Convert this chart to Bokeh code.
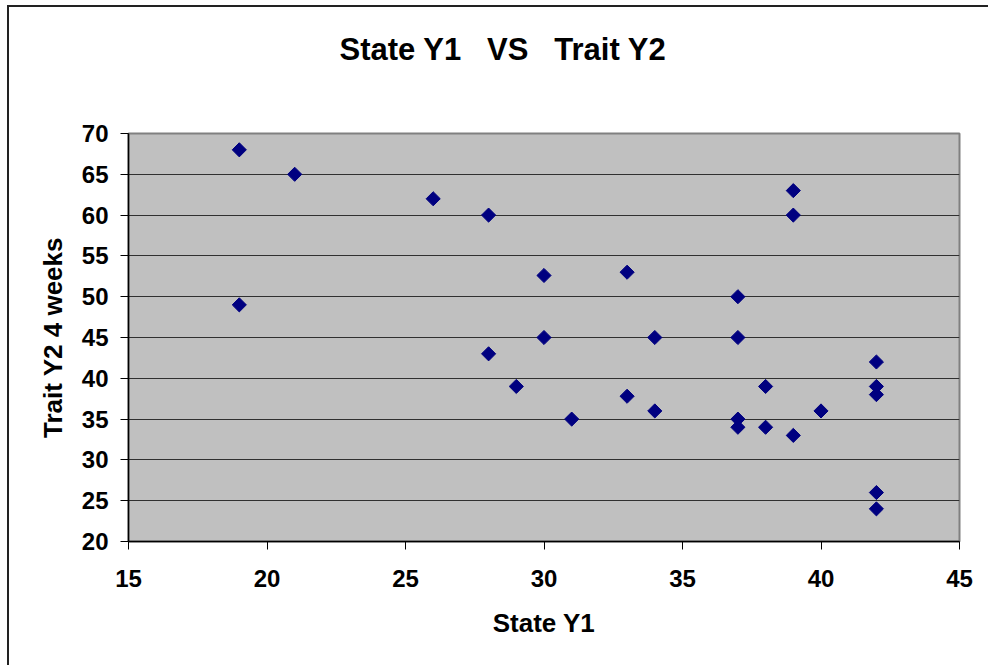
import numpy as np
from bokeh.plotting import figure
from bokeh.models import FixedTicker, Title, ColumnDataSource, Range1d
from bokeh.embed import file_html
from bokeh.resources import INLINE

# ---- data ----
state_y1 = [19, 21, 19, 26, 28, 30, 30, 28, 29, 31, 33, 33, 34, 34, 37,
            37, 37, 37, 38, 38, 39, 39, 39, 40, 42, 42, 42, 42, 42]
trait_y2 = [68, 65, 49, 62, 60, 52.6, 45, 43, 39, 35, 53, 37.8, 45, 36, 50,
            45, 35, 34, 39, 34, 63, 60, 33, 36, 42, 39, 38, 26, 24]
x_ticks = [15, 20, 25, 30, 35, 40, 45]
y_ticks = [20, 25, 30, 35, 40, 45, 50, 55, 60, 65, 70]
title_text = "State Y1\u00a0\u00a0\u00a0VS\u00a0\u00a0\u00a0Trait Y2"
x_label = "State Y1"
y_label = "Trait Y2 4 weeks"

FONT = "Liberation Sans"

p = figure(width=981, height=660, output_backend="svg", toolbar_location=None,
           x_range=Range1d(15, 45), y_range=Range1d(20, 70),
           min_border_left=119, min_border_right=31,
           min_border_top=126, min_border_bottom=126)
p.styles = {"border-top": "2px solid #222222", "border-left": "2px solid #222222",
            "margin-left": "7px", "margin-top": "5px"}

p.background_fill_color = "#C0C0C0"
p.border_fill_color = "white"
p.outline_line_color = "#808080"
p.outline_line_width = 2

p.xgrid.visible = False
p.ygrid.grid_line_color = "#303030"
p.ygrid.grid_line_width = 1
p.ygrid.ticker = FixedTicker(ticks=y_ticks)

for ax, ticks in ((p.xaxis[0], x_ticks), (p.yaxis[0], y_ticks)):
    ax.ticker = FixedTicker(ticks=ticks)
    ax.minor_tick_line_color = None
    ax.major_tick_in = 0
    ax.major_tick_out = 8
    ax.major_tick_line_color = "black"
    ax.axis_line_color = "black"
    ax.axis_line_width = 1.5
    ax.major_label_text_font = FONT
    ax.major_label_text_font_style = "bold"
    ax.major_label_text_font_size = "24px"
    ax.major_label_text_color = "black"
    ax.axis_label_text_font = FONT
    ax.axis_label_text_font_style = "bold"
    ax.axis_label_text_font_size = "26px"
    ax.axis_label_text_color = "black"

p.xaxis.axis_label = x_label
p.yaxis.axis_label = y_label
p.xaxis.major_label_standoff = 20
p.yaxis.major_label_standoff = 12
p.xaxis.axis_label_standoff = 18
p.yaxis.axis_label_standoff = 11

src = ColumnDataSource(dict(x=state_y1, y=trait_y2))
p.scatter("x", "y", source=src, marker="square", angle=np.pi / 4, size=10,
          fill_color="#000080", line_color="#000080")

# chart title (outermost "above" panel), pushed up by a blank spacer panel
p.title.text = title_text
p.title.align = "left"
p.title.offset = 211
p.title.text_font = FONT
p.title.text_font_style = "bold"
p.title.text_font_size = "31px"
p.title.text_color = "black"
p.title.vertical_align = "bottom"
p.add_layout(Title(text="\u00a0", text_font_size="54px", standoff=0), "above")

open("out.html", "w").write(file_html(p, INLINE))
